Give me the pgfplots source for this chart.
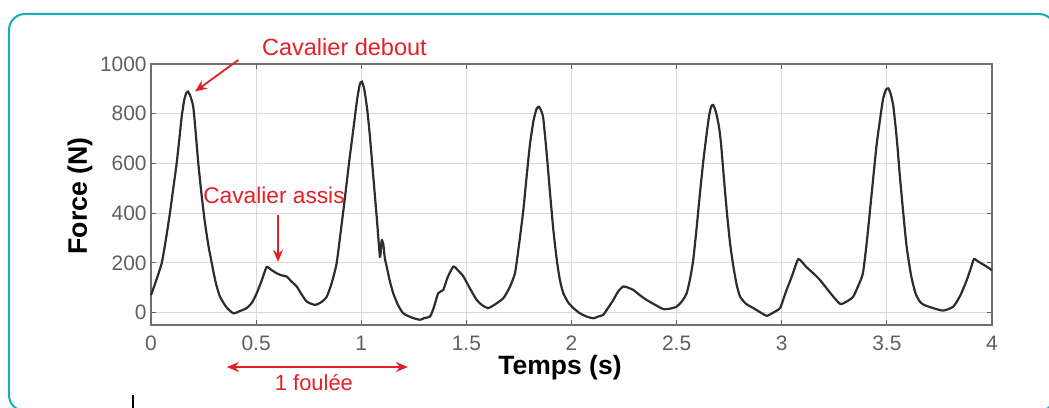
\documentclass[border=0pt]{standalone}
\usepackage{fontspec}
\setmainfont{Liberation Sans}
\usepackage{pgfplots}
\pgfplotsset{compat=1.18}
\usetikzlibrary{arrows.meta}
\definecolor{annred}{RGB}{228,32,38}
\definecolor{frameteal}{RGB}{20,172,192}
\definecolor{tickgray}{RGB}{95,95,95}
\definecolor{curve}{RGB}{45,45,45}

\pgfplotstableread{
t F
0.000 70
0.025 130
0.051 199
0.070 290
0.090 400
0.106 500
0.122 600
0.135 700
0.146 788
0.158 855
0.168 884
0.176 889
0.186 874
0.201 828
0.213 720
0.225 600
0.241 470
0.257 359
0.273 270
0.289 199
0.308 120
0.328 64
0.360 20
0.392 -3
0.420 5
0.455 18
0.480 40
0.503 78
0.527 130
0.550 183
0.575 170
0.598 158
0.620 150
0.645 145
0.668 125
0.693 105
0.715 75
0.741 44
0.780 31
0.810 42
0.836 64
0.860 120
0.883 199
0.903 330
0.923 466
0.943 610
0.962 735
0.980 855
0.993 918
1.003 929
1.014 900
1.028 820
1.040 720
1.058 540
1.074 380
1.089 225
1.097 290
1.105 275
1.112 220
1.121 185
1.135 130
1.152 78
1.175 30
1.200 -3
1.240 -20
1.279 -29
1.300 -22
1.327 -16
1.345 20
1.366 78
1.390 91
1.410 140
1.438 185
1.460 170
1.486 145
1.515 100
1.549 51
1.575 30
1.604 18
1.640 35
1.676 58
1.705 100
1.731 158
1.750 270
1.771 413
1.788 560
1.803 681
1.820 775
1.834 820
1.845 828
1.856 812
1.866 780
1.882 640
1.898 480
1.914 330
1.930 212
1.945 130
1.961 78
1.985 40
2.009 18
2.040 -3
2.072 -16
2.104 -23
2.130 -15
2.151 -9
2.175 20
2.199 51
2.222 85
2.246 105
2.270 100
2.294 91
2.325 70
2.357 51
2.400 30
2.437 14
2.470 16
2.500 24
2.525 45
2.548 78
2.565 140
2.579 212
2.595 340
2.611 480
2.627 610
2.643 721
2.655 795
2.665 830
2.674 835
2.686 810
2.700 755
2.710 690
2.722 570
2.738 413
2.754 280
2.770 185
2.786 110
2.802 64
2.830 35
2.865 18
2.900 0
2.929 -13
2.960 0
2.992 18
3.010 60
3.023 91
3.050 150
3.079 215
3.115 185
3.150 158
3.182 131
3.230 80
3.277 35
3.310 45
3.340 64
3.365 110
3.386 158
3.404 280
3.420 413
3.436 550
3.452 681
3.468 780
3.482 860
3.496 897
3.507 902
3.518 880
3.531 828
3.547 700
3.562 547
3.578 400
3.594 265
3.615 150
3.636 78
3.656 45
3.676 31
3.720 18
3.768 8
3.816 24
3.850 70
3.880 131
3.900 180
3.914 215
3.935 205
3.953 196
3.975 185
4.000 170
}\forcedata

\begin{document}
\begin{tikzpicture}
\begin{axis}[
    at={(0,0)}, anchor=south west,
    scale only axis, width=420.5bp, height=130.5bp,
    xmin=0, xmax=4, ymin=-50, ymax=1000,
    xtick={0,0.5,...,4}, ytick={0,200,...,1000},
    grid=major, grid style={gray!30, line width=0.5bp},
    axis line style={tickgray!90, line width=1bp},
    major tick length=2.5bp,
    tick style={tickgray, line width=0.6bp},
    tick align=inside,
    /pgf/number format/assume math mode=true,
    /pgf/number format/set thousands separator={},
    tick label style={font=\fontsize{10.5}{12}\selectfont, text=tickgray},
    xticklabel style={anchor=center, yshift=-9bp},
    yticklabel style={anchor=east, inner sep=0pt, xshift=-2bp},
    clip=false,
  ]
  \addplot[curve, line width=1.1bp, smooth, tension=0.35] table[x=t, y=F] {\forcedata};

  % annotations
  \node[annred, font=\fontsize{11.8}{14}\selectfont, anchor=west] at (axis cs:0.495,1069) {Cavalier debout};
  \draw[annred, line width=0.9bp, -{Stealth[length=6bp, width=5bp]}] (axis cs:0.415,1016) -- (axis cs:0.209,889);
  \node[annred, font=\fontsize{11.4}{14}\selectfont] at (axis cs:0.585,473) {Cavalier assis};
  \draw[annred, line width=0.9bp, -{Stealth[length=6bp, width=5bp]}] (axis cs:0.604,393) -- (axis cs:0.604,204);
  \draw[annred, line width=0.9bp, {Stealth[length=6bp, width=5bp]}-{Stealth[length=6bp, width=5bp]}] (axis cs:0.361,-219) -- (axis cs:1.222,-219);
  \node[annred, font=\fontsize{11}{13}\selectfont] at (axis cs:0.775,-283) {1 foulée};
\end{axis}
% axis titles placed by hand
\node[font=\fontsize{13.3}{15}\selectfont\bfseries] at (204.5bp,-21.5bp) {Temps (s)};
\node[font=\fontsize{13.4}{15}\selectfont\bfseries, rotate=90] at (-35.5bp,64.5bp) {Force (N)};
% frame around the figure
\draw[frameteal, line width=1bp, rounded corners=8bp] (-71bp,-43bp) rectangle (452bp,155.5bp);
\draw[black, line width=0.6bp] (-9bp,-35bp) -- (-9bp,-41.5bp);
\pgfresetboundingbox
\path[use as bounding box] (-75.5bp,-41.5bp) rectangle (449bp,162.5bp);
\end{tikzpicture}
\end{document}
